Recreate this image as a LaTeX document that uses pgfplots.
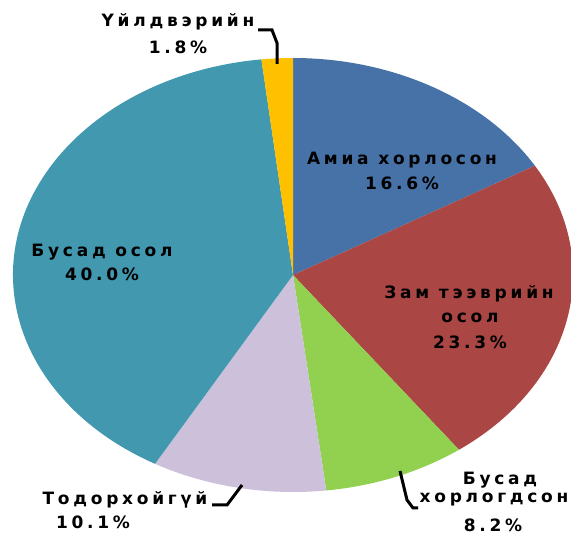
\documentclass[border=0pt]{standalone}
\usepackage{pgfplots}
\pgfplotsset{compat=1.18}
\usepackage{fontspec}
\setmainfont[LetterSpace=22]{DejaVu Sans}
\definecolor{cA}{HTML}{4672A8}
\definecolor{cB}{HTML}{AA4643}
\definecolor{cC}{HTML}{92D050}
\definecolor{cD}{HTML}{CCC0DA}
\definecolor{cE}{HTML}{4198AF}
\definecolor{cF}{HTML}{FFC000}
\tikzset{rr/.style={x radius=280pt, y radius=217pt}}
\begin{document}
\begin{tikzpicture}
\begin{axis}[width=571pt,height=537pt,scale only axis,
  xmin=0,xmax=571,ymin=0,ymax=537,y dir=reverse,hide axis,clip=false]
% values (%): 16.6, 23.3, 8.2, 10.1, 40.0, 1.8 clockwise from top
\fill[cA] (axis cs:293,275) -- +({90-3.6*0}:280pt and 217pt) arc[start angle={90-3.6*0}, end angle={90-3.6*16.6},rr] -- cycle;
\fill[cB] (axis cs:293,275) -- +({90-3.6*16.6}:280pt and 217pt) arc[start angle={90-3.6*16.6}, end angle={90-3.6*(16.6+23.3)},rr] -- cycle;
\fill[cC] (axis cs:293,275) -- +({90-3.6*(16.6+23.3)}:280pt and 217pt) arc[start angle={90-3.6*(16.6+23.3)}, end angle={90-3.6*(16.6+23.3+8.2)},rr] -- cycle;
\fill[cD] (axis cs:293,275) -- +({90-3.6*(16.6+23.3+8.2)}:280pt and 217pt) arc[start angle={90-3.6*(16.6+23.3+8.2)}, end angle={90-3.6*(16.6+23.3+8.2+10.1)},rr] -- cycle;
\fill[cE] (axis cs:293,275) -- +({90-3.6*(16.6+23.3+8.2+10.1)}:280pt and 217pt) arc[start angle={90-3.6*(16.6+23.3+8.2+10.1)}, end angle={90-3.6*(16.6+23.3+8.2+10.1+40.0)},rr] -- cycle;
\fill[cF] (axis cs:293,275) -- +({90-3.6*(16.6+23.3+8.2+10.1+40.0)}:280pt and 217pt) arc[start angle={90-3.6*(16.6+23.3+8.2+10.1+40.0)}, end angle={90-3.6*(16.6+23.3+8.2+10.1+40.0+1.8)},rr] -- cycle;
% leader lines
\draw[line width=3pt] (axis cs:258,30) -- (axis cs:272,30) -- (axis cs:277,43) -- (axis cs:277,64);
\draw[line width=3pt] (axis cs:400,471) -- (axis cs:407,500) -- (axis cs:413,508) -- (axis cs:418,508);
\draw[line width=3pt] (axis cs:212,505) -- (axis cs:227,505) -- (axis cs:242,485);
% labels
\tikzset{lab/.style={inner sep=0pt, font=\fontsize{17}{20}\selectfont\bfseries}}
\node[lab] at (axis cs:178,22) {Үйлдвэрийн};
\node[lab] at (axis cs:178,47) {1.8\%};
\node[lab] at (axis cs:402,160) {Амиа хорлосон};
\node[lab] at (axis cs:402,183) {16.6\%};
\node[lab] at (axis cs:469,294) {Зам тээврийн};
\node[lab] at (axis cs:470,318) {осол};
\node[lab] at (axis cs:470,342) {23.3\%};
\node[lab] at (axis cs:500,480) {Бусад};
\node[lab] at (axis cs:494,500) {хорлогдсон};
\node[lab] at (axis cs:493,525) {8.2\%};
\node[lab] at (axis cs:125,500) {Тодорхойгүй};
\node[lab] at (axis cs:93,522) {10.1\%};
\node[lab] at (axis cs:102,252) {Бусад осол};
\node[lab] at (axis cs:102,274) {40.0\%};
\end{axis}
\pgfresetboundingbox
\path (current axis.south west) rectangle (current axis.north east);
\end{tikzpicture}
\end{document}
